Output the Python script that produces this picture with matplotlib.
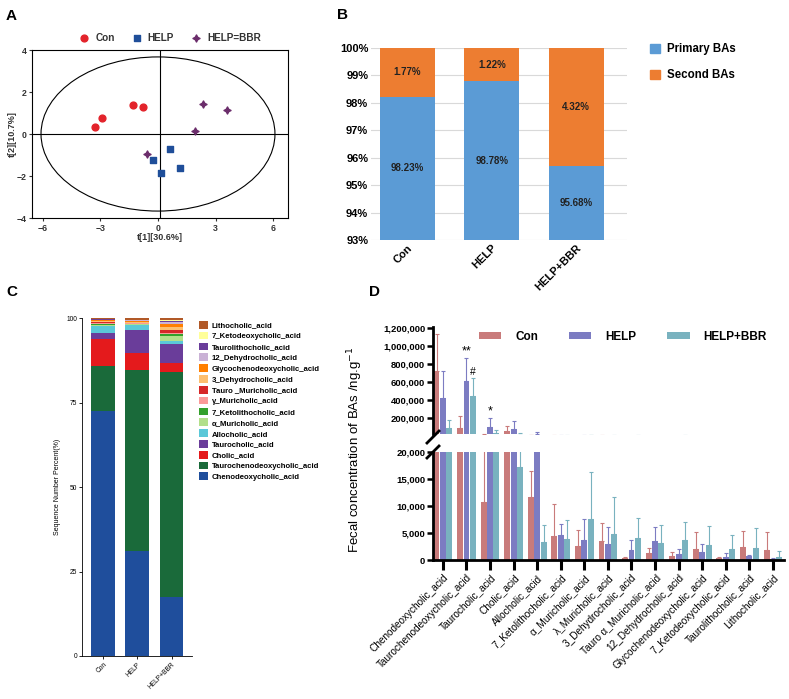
import numpy as np
import matplotlib
matplotlib.use("Agg")
from matplotlib import pyplot as plt
from matplotlib.patches import Ellipse, Patch
from matplotlib.lines import Line2D

plt.rcParams['font.family'] = ['Liberation Sans', 'DejaVu Sans']

# ---- data ----
# A: PCA scores
con_x = [-3.27, -2.94, -1.29, -0.79]
con_y = [0.33, 0.75, 1.37, 1.30]
help_x = [-0.28, 0.14, 0.65, 1.15]
help_y = [-1.24, -1.84, -0.71, -1.60]
bbr_x = [-0.56, 1.94, 2.36, 3.62]
bbr_y = [-0.95, 0.13, 1.44, 1.13]

# B: primary / secondary BAs
groups = ["Con", "HELP", "HELP+BBR"]
primary = [98.23, 98.78, 95.68]
second = [1.77, 1.22, 4.32]

# C: composition (bottom to top)
acids_c = ["Chenodeoxycholic_acid", "Taurochenodeoxycholic_acid", "Cholic_acid",
           "Taurocholic_acid", "Allocholic_acid", "α_Muricholic_acid",
           "7_Ketolithocholic_acid", "γ_Muricholic_acid", "Tauro _Muricholic_acid",
           "3_Dehydrocholic_acid", "Glycochenodeoxycholic_acid", "12_Dehydrocholic_acid",
           "Taurolithocholic_acid", "7_Ketodeoxycholic_acid", "Lithocholic_acid"]
colors_c = ["#1f4e9c", "#1a6a3a", "#e41a1c", "#6a3d9a", "#5bc8d8", "#b2df8a",
            "#33a02c", "#fb9a99", "#d62728", "#fdbf6f", "#ff7f00", "#cab2d6",
            "#6a3d9a", "#ffff99", "#b15928"]
con_pct = [72.5, 13.3, 8.0, 1.8, 2.0, 0.4, 0.3, 0.2, 0.3, 0.3, 0.3, 0.1, 0.1, 0.1, 0.3]
help_pct = [31.1, 53.6, 5.0, 6.8, 1.3, 0.3, 0.2, 0.1, 0.2, 0.3, 0.3, 0.1, 0.1, 0.1, 0.5]
bbr_pct = [17.5, 66.5, 2.7, 5.6, 1.0, 1.3, 0.7, 0.4, 0.8, 0.8, 1.0, 0.4, 0.5, 0.3, 0.5]

# D: fecal concentrations
d_acids = ["Chenodeoxycholic_acid", "Taurochenodeoxycholic_acid", "Taurocholic_acid",
           "Cholic_acid", "Allocholic_acid", "7_Ketolithocholic_acid", "α_Muricholic_acid",
           "λ_Muricholic_acid", "3_Dehydrocholic_acid", "Tauro α_Muricholic_acid",
           "12_Dehydrocholic_acid", "Glycochenodeoxycholic_acid", "7_Ketodeoxycholic_acid",
           "Taurolithocholic_acid", "Lithocholic_acid"]
con_mean = [725000, 86000, 10800, 59000, 11800, 4500, 2700, 3600, 430, 1360, 800, 2160, 430, 2530, 1980]
con_err = [409000, 138000, 14000, 52000, 4800, 5900, 2900, 3400, 100, 900, 700, 3100, 100, 2900, 3300]
help_mean = [421000, 608000, 97000, 75000, 22000, 4700, 3700, 3100, 1850, 3500, 1170, 1480, 560, 740, 250]
help_err = [304000, 256000, 102000, 94000, 20000, 2100, 3900, 3000, 2000, 2700, 1000, 1600, 860, 250, 100]
bbr_mean = [92000, 440000, 38000, 17200, 3450, 3950, 7700, 4900, 4100, 3200, 3770, 2900, 2100, 2200, 620]
bbr_err = [85000, 205000, 30000, 12000, 3100, 3450, 8700, 6800, 3800, 3300, 3300, 3500, 2500, 3800, 1100]

W, H = 789, 699
fig = plt.figure(figsize=(W / 100, H / 100), dpi=100)


def box(l, t, r, b):
    return [l / W, 1 - b / H, (r - l) / W, (b - t) / H]


def letter(x, y, s):
    fig.text(x / W, 1 - y / H, s, fontsize=11, fontweight="bold", va="center", ha="center")


# ---- A ----
axA = fig.add_axes(box(32, 50, 288, 218))
axA.add_patch(Ellipse((0, 0), 12.2, 7.34, fill=False, ec="black", lw=0.8))
axA.axhline(0, color="black", lw=0.8)
axA.axvline(0.08, color="black", lw=0.8)
axA.scatter(con_x, con_y, s=24, color="#e3232b", marker="o", label="Con", zorder=3)
axA.scatter(help_x, help_y, s=20, color="#1f4e99", marker="s", label="HELP", zorder=3)
axA.scatter(bbr_x, bbr_y, s=26, color="#6b2d6b", marker=(4, 1, 0), label="HELP=BBR", zorder=3)
axA.set_xlim(-6.57, 6.78)
axA.set_ylim(-4, 4)
axA.set_xticks([-6, -3, 0, 3, 6])
axA.set_yticks([-4, -2, 0, 2, 4])
axA.tick_params(labelsize=6.3, length=2.5, width=0.8, pad=1.5, colors="#333333")
for t in axA.get_xticklabels() + axA.get_yticklabels():
    t.set_fontweight("bold")
axA.set_xlabel("t[1][30.6%]", fontsize=6.5, fontweight="bold", labelpad=0, color="#333333")
axA.set_ylabel("t[2][10.7%]", fontsize=6.5, fontweight="bold", labelpad=0, color="#333333")
axA.legend(loc="lower center", bbox_to_anchor=(0.53, 1.0), ncol=3, frameon=False,
           prop=dict(size=7.2, weight="bold"), handletextpad=0.1, columnspacing=1.2,
           markerscale=1.0, borderaxespad=0.3, labelcolor="#333333")
letter(11, 16, "A")

# ---- B ----
axB = fig.add_axes(box(371, 48, 627, 240))
xb = np.arange(len(groups))
axB.bar(xb, primary, 0.65, color="#5b9bd5", zorder=2)
axB.bar(xb, second, 0.65, bottom=primary, color="#ed7d31", zorder=2)
for i in range(len(groups)):
    axB.text(xb[i], (93 + primary[i]) / 2, f"{primary[i]:.2f}%", ha="center", va="center",
             fontsize=7, fontweight="bold", color="#222222", zorder=3)
    axB.text(xb[i], primary[i] + second[i] / 2, f"{second[i]:.2f}%", ha="center", va="center",
             fontsize=7, fontweight="bold", color="#222222", zorder=3)
axB.set_ylim(93, 100)
axB.set_xlim(-0.43, 2.6)
axB.set_yticks(range(93, 101))
axB.set_yticklabels([f"{v}%" for v in range(93, 101)])
axB.yaxis.grid(True, color="#d9d9d9", lw=0.8)
axB.set_axisbelow(True)
for s in axB.spines.values():
    s.set_visible(False)
axB.tick_params(length=0, labelsize=8, pad=2)
axB.set_xticks(xb)
axB.set_xticklabels(groups, rotation=45, ha="right", rotation_mode="anchor", fontweight="bold")
for t in axB.get_yticklabels():
    t.set_fontweight("bold")
fig.legend([Patch(color="#5b9bd5"), Patch(color="#ed7d31")], ["Primary BAs", "Second BAs"],
           loc="upper left", bbox_to_anchor=(640 / W, 1 - 33 / H), frameon=False,
           prop=dict(size=8.3, weight="bold"), handlelength=0.8, handleheight=0.8,
           labelspacing=1.2, handletextpad=0.6)
letter(343, 15, "B")

# ---- C ----
axC = fig.add_axes(box(82, 318, 192, 656))
xc = np.arange(3)
bottom = np.zeros(3)
for i, name in enumerate(acids_c):
    vals = np.array([con_pct[i], help_pct[i], bbr_pct[i]])
    axC.bar(xc, vals, 0.7, bottom=bottom, color=colors_c[i], label=name)
    bottom += vals
axC.set_ylim(0, 100)
axC.set_xlim(-0.62, 2.6)
axC.set_yticks([0, 25, 50, 75, 100])
axC.set_xticks(xc)
axC.set_xticklabels(groups, rotation=45, ha="right", rotation_mode="anchor")
axC.tick_params(labelsize=4.8, length=2, width=0.6, pad=1.5)
axC.spines[["top", "right"]].set_visible(False)
axC.spines[["left", "bottom"]].set_linewidth(0.6)
axC.set_ylabel("Sequence Number Percent(%)", fontsize=5, labelpad=4)
h, l = axC.get_legend_handles_labels()
fig.legend(h[::-1], l[::-1], loc="upper left", bbox_to_anchor=(195 / W, 1 - 317 / H),
           frameon=False, prop=dict(size=5.6, weight="bold"), handlelength=1.15,
           handleheight=1.15, labelspacing=0.3, handletextpad=0.5, borderpad=0)
letter(12, 292, "C")

# ---- D ----
axU = fig.add_axes(box(433, 326.7, 784, 434.3))
axL = fig.add_axes(box(433, 452.3, 784, 560.3))
xd = np.arange(len(d_acids))
series = [(con_mean, con_err, "#c97b7b", "Con"), (help_mean, help_err, "#7c7cc2", "HELP"),
          (bbr_mean, bbr_err, "#79b2bf", "HELP+BBR")]
offs = [-0.27, 0.0, 0.27]
for ax in (axU, axL):
    for k, (m, e, c, lab) in enumerate(series):
        ax.bar(xd + offs[k], m, 0.25, color=c, label=lab,
               yerr=[np.zeros(len(m)), e],
               error_kw=dict(ecolor=c, elinewidth=0.8, capsize=1.3, capthick=0.8))
    ax.set_xlim(-0.42, 14.47)
    ax.spines[["top", "right"]].set_visible(False)
    ax.spines["left"].set_linewidth(2)
    ax.tick_params(axis="y", labelsize=6.8, length=4, width=1.8, pad=1.5)
axU.set_ylim(20000, 1210000)
axU.set_yticks([200000, 400000, 600000, 800000, 1000000, 1200000])
axU.set_yticklabels(["200,000", "400,000", "600,000", "800,000", "1,000,000", "1,200,000"],
                    fontweight="bold")
axU.spines["bottom"].set_visible(False)
axU.set_xticks([])
axL.set_ylim(0, 20000)
axL.set_yticks([0, 5000, 10000, 15000, 20000])
axL.set_yticklabels(["0", "5,000", "10,000", "15,000", "20,000"], fontweight="bold")
axL.spines["bottom"].set_linewidth(2)
axL.set_xticks(xd)
axL.set_xticklabels(d_acids, rotation=45, ha="right", rotation_mode="anchor", fontsize=7.2)
axL.tick_params(axis="x", length=7, width=2.2, pad=2)

# significance marks
axU.text(xd[1], help_mean[1] + help_err[1] + 5000, "**", ha="center", va="bottom", fontsize=9)
axU.text(xd[1] + offs[2], bbr_mean[1] + bbr_err[1] + 5000, "#", ha="center", va="bottom", fontsize=7.5)
axU.text(xd[2], help_mean[2] + help_err[2] + 5000, "*", ha="center", va="bottom", fontsize=9)

# break marks
for yb in (437, 452):
    fig.add_artist(Line2D([427 / W, 439 / W], [1 - (yb + 6) / H, 1 - (yb - 6) / H],
                          color="black", lw=2))

h, l = axL.get_legend_handles_labels()
fig.legend(h, l, loc="upper left", bbox_to_anchor=(468 / W, 1 - 320 / H), ncol=3,
           frameon=False, prop=dict(size=8.5, weight="bold"), handlelength=1.9,
           handleheight=0.55, columnspacing=2.6, handletextpad=1.2)

fig.text(355 / W, 1 - 450 / H, "Fecal concentration of BAs /ng.g$^{-1}$", rotation=90,
         fontsize=9.5, ha="center", va="center")
letter(375, 292, "D")

fig.savefig("out.png", dpi=100)
